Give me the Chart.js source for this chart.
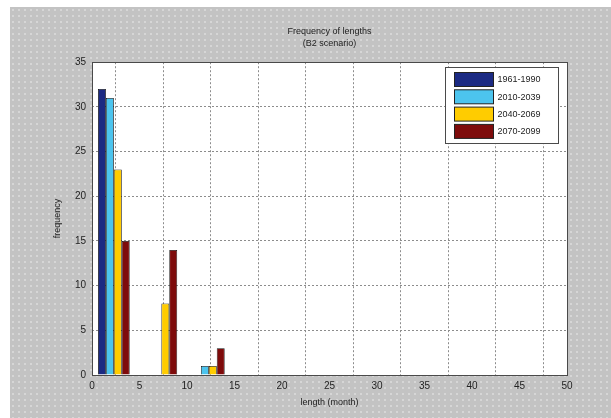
<!DOCTYPE html>
<html lang="en">
<head>
    <meta charset="UTF-8">
    <title>Frequency of lengths</title>
    <script src="https://cdn.jsdelivr.net/npm/chart.js"></script>
    <style>
        html, body {
            margin: 0;
            padding: 0;
            background: #ffffff;
            overflow: hidden;
        }
        /* grey MATLAB-like figure background, white strip top and left */
        #frame {
            position: absolute;
            top: 7px;
            left: 10px;
            right: 0;
            bottom: 0;
            background-color: #c3c3c3;
            background-image: radial-gradient(circle, #d6d6d6 1px, transparent 1.2px);
            background-size: 6px 6px;
        }
        #wrap {
            position: absolute;
            top: 0;
            left: 0;
            width: 611px;
            height: 418px;
        }
    </style>
</head>
<body>
    <div id="frame"></div>
    <div id="wrap">
        <canvas id="histChart" width="611" height="418"></canvas>
    </div>

    <script>
        // bin centres (months) and counts per period
        const binCenters = [2.3, 7.3, 12.3];
        const periods = ['1961-1990', '2010-2039', '2040-2069', '2070-2099'];
        const counts1961 = [32, 0, 0];
        const counts2010 = [31, 0, 1];
        const counts2040 = [23, 8, 1];
        const counts2070 = [15, 14, 3];
        const xTicks = [0, 5, 10, 15, 20, 25, 30, 35, 40, 45, 50];
        const yTicks = [0, 5, 10, 15, 20, 25, 30, 35];

        const colors = ['#1b2a83', '#4cc4ee', '#ffcc00', '#7e0b0b'];
        const seriesCounts = [counts1961, counts2010, counts2040, counts2070];

        const datasets = periods.map((label, i) => ({
            label: label,
            data: binCenters.map((x, j) => ({ x: x, y: seriesCounts[i][j] })),
            backgroundColor: colors[i],
            borderColor: '#111111',
            borderWidth: 0.8,
            categoryPercentage: 0.667,
            barPercentage: 1.0
        }));

        // white plot area + solid box around it
        const plotBox = {
            id: 'plotBox',
            beforeDraw(chart) {
                const a = chart.chartArea;
                const ctx = chart.ctx;
                ctx.save();
                ctx.fillStyle = '#ffffff';
                ctx.fillRect(a.left, a.top, a.right - a.left, a.bottom - a.top);
                ctx.restore();
            },
            afterDraw(chart) {
                const a = chart.chartArea;
                const ctx = chart.ctx;
                ctx.save();
                ctx.strokeStyle = '#4a4a4a';
                ctx.lineWidth = 1;
                ctx.strokeRect(Math.round(a.left) + 0.5, Math.round(a.top) + 0.5,
                    Math.round(a.right - a.left), Math.round(a.bottom - a.top));
                ctx.restore();
            }
        };

        // boxed legend in the top-right corner of the plot
        const boxLegend = {
            id: 'boxLegend',
            afterDraw(chart) {
                const a = chart.chartArea;
                const ctx = chart.ctx;
                const w = 113, h = 76;
                const x = Math.round(a.right - w - 9) + 0.5;
                const y = Math.round(a.top + 5) + 0.5;
                ctx.save();
                ctx.fillStyle = '#ffffff';
                ctx.fillRect(x, y, w, h);
                ctx.strokeStyle = '#4a4a4a';
                ctx.lineWidth = 1;
                ctx.strokeRect(x, y, w, h);
                ctx.font = '9px "Liberation Sans", Arial, sans-serif';
                ctx.textBaseline = 'middle';
                chart.data.datasets.forEach((ds, i) => {
                    const sy = y + 5 + i * 17.3;
                    ctx.fillStyle = ds.backgroundColor;
                    ctx.fillRect(x + 9, sy, 39, 14);
                    ctx.strokeStyle = '#222222';
                    ctx.strokeRect(x + 9, sy, 39, 14);
                    ctx.fillStyle = '#222222';
                    ctx.fillText(ds.label, x + 52, sy + 7.5);
                });
                ctx.restore();
            }
        };

        const ctx = document.getElementById('histChart').getContext('2d');
        new Chart(ctx, {
            type: 'bar',
            data: { datasets: datasets },
            plugins: [plotBox, boxLegend],
            options: {
                responsive: false,
                animation: false,
                layout: { padding: { left: 0, right: 44, top: 0, bottom: 0 } },
                plugins: {
                    legend: { display: false },
                    tooltip: { enabled: false },
                    title: {
                        display: true,
                        fullSize: false,
                        text: ['Frequency of lengths', '(B2 scenario)'],
                        color: '#222222',
                        font: { family: '"Liberation Sans", Arial, sans-serif', size: 9, weight: 'normal', lineHeight: 1.4 },
                        padding: { top: 25, bottom: 12 }
                    }
                },
                scales: {
                    x: {
                        type: 'linear',
                        offset: false,
                        min: xTicks[0],
                        max: xTicks[xTicks.length - 1],
                        afterBuildTicks: (s) => { s.ticks = xTicks.map(v => ({ value: v })); },
                        afterFit: (s) => { s.height = 43; },
                        grid: {
                            color: '#8c8c8c',
                            lineWidth: 1,
                            drawTicks: false
                        },
                        border: { display: false, dash: [2, 2] },
                        ticks: {
                            color: '#222222',
                            padding: 5,
                            maxRotation: 0,
                            font: { family: '"Liberation Sans", Arial, sans-serif', size: 10 }
                        },
                        title: {
                            display: true,
                            text: 'length (month)',
                            color: '#222222',
                            font: { family: '"Liberation Sans", Arial, sans-serif', size: 9 },
                            padding: { top: 0, bottom: 10 }
                        }
                    },
                    y: {
                        min: yTicks[0],
                        max: yTicks[yTicks.length - 1],
                        afterBuildTicks: (s) => { s.ticks = yTicks.map(v => ({ value: v })); },
                        afterFit: (s) => { s.width = 92; },
                        grid: {
                            color: '#8c8c8c',
                            lineWidth: 1,
                            drawTicks: false
                        },
                        border: { display: false, dash: [2, 2] },
                        ticks: {
                            color: '#222222',
                            padding: 6,
                            font: { family: '"Liberation Sans", Arial, sans-serif', size: 10 }
                        },
                        title: {
                            display: true,
                            text: 'frequency',
                            color: '#222222',
                            font: { family: '"Liberation Sans", Arial, sans-serif', size: 9 },
                            padding: { top: 52, bottom: 0 }
                        }
                    }
                }
            }
        });
    </script>
</body>
</html>
